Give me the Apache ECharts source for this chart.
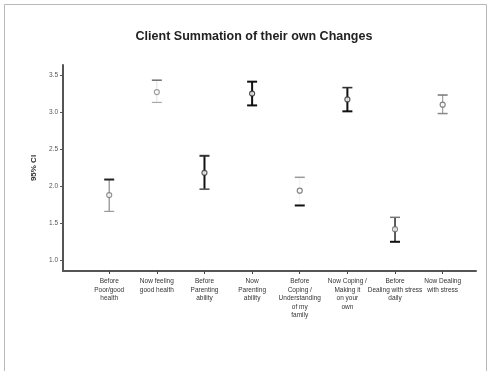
<!DOCTYPE html>
<html>
<head>
<meta charset="utf-8">
<script src="https://cdn.jsdelivr.net/npm/echarts@6/dist/echarts.min.js"></script>
<style>
  html, body { margin: 0; padding: 0; background: #fff; }
  #chart { width: 490px; height: 371px; }
</style>
</head>
<body>
<div id="chart"></div>
<script>
// Categories along the x axis
const categories = [
  'Before\nPoor/good\nhealth',
  'Now feeling\ngood health',
  'Before\nParenting\nability',
  'Now\nParenting\nability',
  'Before\nCoping /\nUnderstanding\nof my\nfamily',
  'Now Coping /\nMaking it\non your\nown',
  'Before\nDealing with stress\ndaily',
  'Now Dealing\nwith stress'
];

// Mean and 95% confidence bounds for each category
const means = [1.88, 3.27, 2.18, 3.25, 1.94, 3.17, 1.42, 3.10];
const lowerCI = [1.66, 3.13, 1.96, 3.09, 1.74, 3.01, 1.25, 2.98];
const upperCI = [2.09, 3.43, 2.41, 3.41, 2.12, 3.33, 1.58, 3.23];

// Y tick labels
const yTicks = [1.0, 1.5, 2.0, 2.5, 3.0, 3.5];

// Drawing style for each error bar: stem, top cap, bottom cap, marker
const barStyles = [
  { stem: ['#8a8a8a', 1.2], top: ['#222', 2], bottom: ['#9a9a9a', 1.2], mark: '#777' },
  { stem: ['#e2e2e2', 1], top: ['#6f6f6f', 1.5], bottom: ['#a8a8a8', 1.2], mark: '#888' },
  { stem: ['#111', 2], top: ['#333', 2], bottom: ['#555', 1.6], mark: '#333' },
  { stem: ['#111', 2], top: ['#111', 2], bottom: ['#111', 2], mark: '#222' },
  { stem: ['#f0f0f0', 1], top: ['#9a9a9a', 1.5], bottom: ['#111', 2], mark: '#666' },
  { stem: ['#111', 2], top: ['#333', 1.6], bottom: ['#111', 2], mark: '#333' },
  { stem: ['#333', 1.6], top: ['#777', 1.5], bottom: ['#111', 2], mark: '#666' },
  { stem: ['#999', 1.1], top: ['#777', 1.5], bottom: ['#888', 1.5], mark: '#666' }
];

const FONT = 'Liberation Sans, Arial, sans-serif';
const idx = categories.map((_, i) => i);

const chart = echarts.init(document.getElementById('chart'));

chart.setOption({
  animation: false,
  backgroundColor: '#fff',
  title: {
    text: 'Client Summation of their own Changes',
    left: 249,
    textAlign: 'center',
    top: 25,
    textStyle: { fontFamily: FONT, fontSize: 12.5, fontWeight: 'bold', color: '#222' }
  },
  graphic: [{
    type: 'rect',
    shape: { x: 4.5, y: 4.5, width: 482, height: 370 },
    style: { fill: 'none', stroke: '#b8b8b8', lineWidth: 1 },
    silent: true
  }],
  grid: { left: 63, right: 14, top: 65, bottom: 100 },
  xAxis: {
    type: 'value',
    min: -0.97,
    max: 7.7,
    axisLine: { show: true, onZero: false, lineStyle: { color: '#555', width: 2 } },
    axisTick: { show: true, length: 3, customValues: idx, lineStyle: { color: '#444', width: 1 } },
    axisLabel: {
      customValues: idx,
      formatter: v => categories[Math.round(v)] || '',
      fontFamily: FONT, fontSize: 6.5, color: '#333', lineHeight: 8.5, margin: 6
    },
    splitLine: { show: false }
  },
  yAxis: {
    type: 'value',
    min: 0.856,
    max: 3.635,
    name: '95% CI',
    nameLocation: 'middle',
    nameGap: 22,
    nameTextStyle: { fontFamily: FONT, fontSize: 8, fontWeight: 'bold', color: '#333' },
    axisLine: { show: true, onZero: false, lineStyle: { color: '#555', width: 2 } },
    axisTick: { show: true, length: 3, customValues: yTicks, lineStyle: { color: '#555' } },
    axisLabel: {
      customValues: yTicks,
      formatter: v => v.toFixed(1),
      fontFamily: FONT, fontSize: 6.5, color: '#555', margin: 5
    },
    splitLine: { show: false }
  },
  series: [
    {
      type: 'custom',
      data: idx.map(i => [i, lowerCI[i], upperCI[i]]),
      renderItem: (params, api) => {
        const i = api.value(0);
        const lo = api.coord([i, api.value(1)]);
        const hi = api.coord([i, api.value(2)]);
        const s = barStyles[i];
        const half = 5;
        return {
          type: 'group',
          children: [
            { type: 'line', shape: { x1: hi[0], y1: hi[1], x2: lo[0], y2: lo[1] },
              style: { stroke: s.stem[0], lineWidth: s.stem[1] } },
            { type: 'line', shape: { x1: hi[0] - half, y1: hi[1], x2: hi[0] + half, y2: hi[1] },
              style: { stroke: s.top[0], lineWidth: s.top[1] } },
            { type: 'line', shape: { x1: lo[0] - half, y1: lo[1], x2: lo[0] + half, y2: lo[1] },
              style: { stroke: s.bottom[0], lineWidth: s.bottom[1] } }
          ]
        };
      },
      z: 2
    },
    {
      type: 'scatter',
      data: idx.map(i => ({
        value: [i, means[i]],
        itemStyle: { borderColor: barStyles[i].mark }
      })),
      symbol: 'circle',
      symbolSize: 5,
      itemStyle: { color: '#fff', borderWidth: 1.2 },
      z: 3
    }
  ]
});
</script>
</body>
</html>
